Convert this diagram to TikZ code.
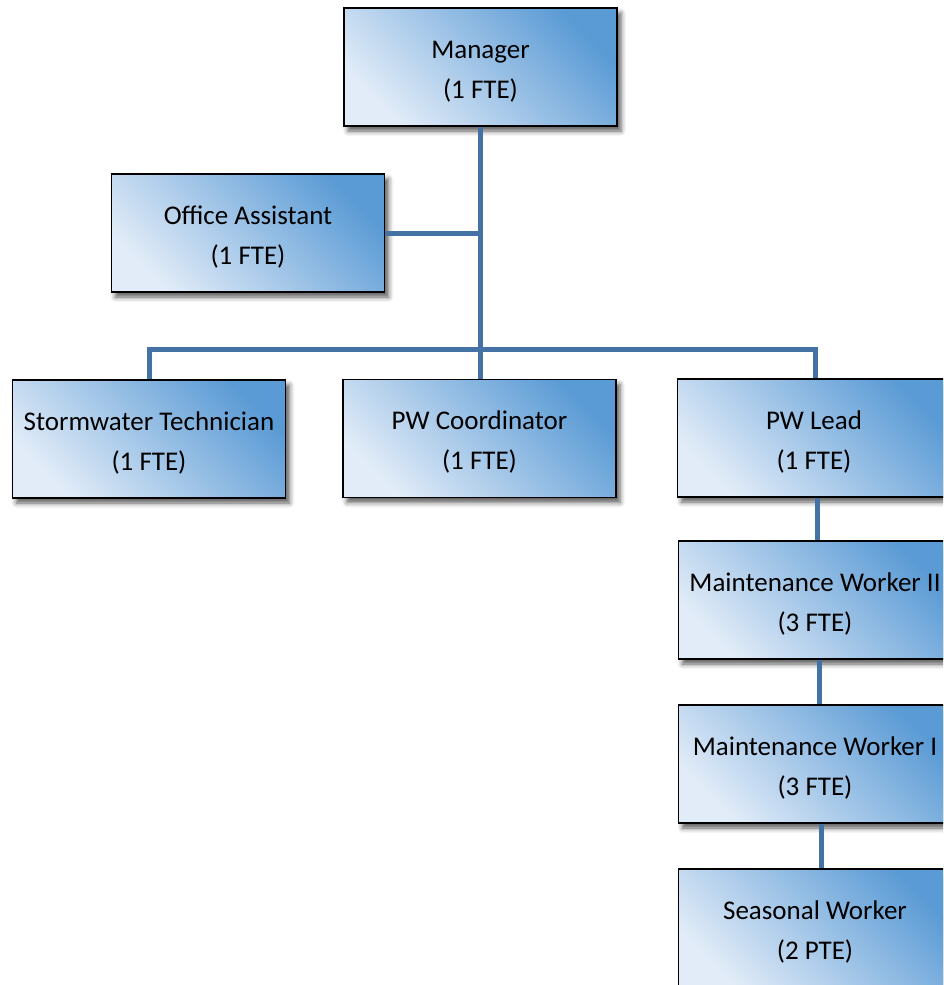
\documentclass[tikz,border=0pt]{standalone}
\usepackage{fontspec}
\setmainfont{Carlito}
\usetikzlibrary{shadows.blur}
\definecolor{boxdark}{RGB}{91,155,213}
\definecolor{boxlight}{RGB}{226,236,248}
\definecolor{linkblue}{RGB}{68,114,164}
% common height for the first text row of every box
\newcommand{\rowlift}{\rule{0pt}{22pt}}
\tikzset{
  post/.style={draw=black, line width=1.3pt, rectangle,
    minimum width=273pt, minimum height=118pt, align=center,
    font=\fontsize{27}{40}\selectfont, text depth=0pt,
    top color=boxdark, bottom color=boxlight, shading angle=-45,
    blur shadow={shadow xshift=4pt, shadow yshift=-5pt,
      shadow blur radius=5pt, shadow opacity=65}},
  link/.style={draw=linkblue, line width=5pt}
}
\begin{document}
\begin{tikzpicture}[x=1pt, y=-1pt]
  \useasboundingbox (0,0) rectangle (943,985);
  \clip (0,0) rectangle (943,985);
  \coordinate (bus) at (480,349);
  \coordinate (oajoin) at (480,233);
  % the posts
  \node[post] (mgr)  at (480.5,67)  {\rowlift Manager\\(1 FTE)};
  \node[post] (oa)   at (248,233)   {\rowlift Office Assistant\\(1 FTE)};
  \node[post] (sw)   at (149,439)   {\rowlift Stormwater Technician\\(1 FTE)};
  \node[post] (pwc)  at (479.5,438.5) {\rowlift PW Coordinator\\(1 FTE)};
  \node[post] (lead) at (814,438)   {\rowlift PW Lead\\(1 FTE)};
  \node[post] (mw2)  at (815,600)   {\rowlift Maintenance Worker II\\(3 FTE)};
  \node[post] (mw1)  at (815,764)   {\rowlift Maintenance Worker I\\(3 FTE)};
  \node[post] (sea)  at (815,928)   {\rowlift Seasonal Worker\\(2 PTE)};
  % reporting lines
  \draw[link] (mgr.south) -- (pwc.north -| mgr.south);
  \draw[link] (oa.east) -- (oajoin);
  \draw[link] (sw.north) |- (bus) -| ([xshift=1pt]lead.north);
  \draw[link] ([xshift=3pt]lead.south) -- ([xshift=2pt]mw2.north);
  \draw[link] ([xshift=4pt]mw2.south) -- ([xshift=4pt]mw1.north);
  \draw[link] ([xshift=6pt]mw1.south) -- ([xshift=6pt]sea.north);
\end{tikzpicture}
\end{document}
